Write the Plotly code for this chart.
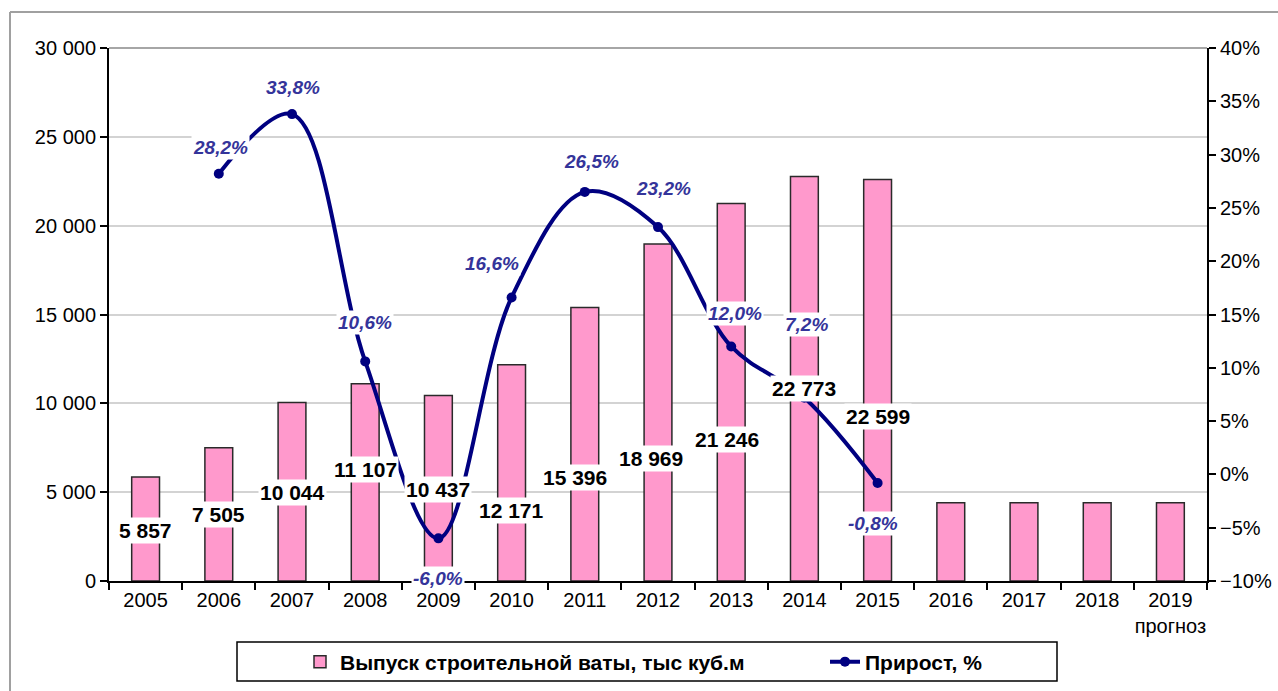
import plotly.graph_objects as go

# ---- data ----
years = ["2005", "2006", "2007", "2008", "2009", "2010", "2011", "2012",
         "2013", "2014", "2015", "2016", "2017", "2018", "2019"]
year_ticktext = ["2005", "2006", "2007", "2008", "2009", "2010", "2011", "2012",
                 "2013", "2014", "2015", "2016", "2017", "2018", "2019<br>прогноз"]
production = [5857, 7505, 10044, 11107, 10437, 12171, 15396, 18969,
              21246, 22773, 22599, 4400, 4400, 4400, 4400]
labeled_years = years[:11]
growth = [None, 28.2, 33.8, 10.6, -6.0, 16.6, 26.5, 23.2, 12.0, 7.2, -0.8,
          None, None, None, None]

bar_name = "Выпуск строительной ваты, тыс куб.м"
line_name = "Прирост, %"

# ---- label placement (pixels) ----
bar_label_yshift = [51, 67, 89, 112, 92, 71, 104, 123, 142, 193, 165]
bar_label_xshift = [0, 0, 0, 0, 0, 0, -10, -7, -4, 0, 0]
pct_label_xshift = [2, 1, 0, 0, -20, 7, 5, 4, 2, -5]
pct_label_yshift = [26, 27, 39, -40, 34, 30, 39, 33, 73, -41]

FONT = "Liberation Sans, Arial, sans-serif"
W, H = 1278, 691
L, R, T, B = 109, 71, 48, 110
PW, PH = W - L - R, H - T - B


def px_x(p):
    return (p - L) / PW


def px_y(p):
    return (H - B - p) / PH


fig = go.Figure()
fig.add_trace(go.Bar(
    x=years, y=production, name=bar_name, yaxis="y", legend="legend",
    marker=dict(color="#FF99CC", line=dict(color="#2a2a2a", width=1.5)),
))
fig.add_trace(go.Scatter(
    x=years, y=growth, name=line_name, yaxis="y2", mode="lines+markers",
    legend="legend2",
    line=dict(color="#000080", width=4, shape="spline", smoothing=1),
    marker=dict(color="#000080", size=10),
    connectgaps=False,
))

annotations = []
for i, yr in enumerate(labeled_years):
    v = production[i]
    annotations.append(dict(
        x=i, y=0, xref="x", yref="y", showarrow=False,
        text=f"{v:,}".replace(",", " "),
        font=dict(family=FONT, size=21, color="#000000", weight="bold"),
        bgcolor="#FFFFFF", borderpad=1,
        xanchor="center", yanchor="middle",
        xshift=bar_label_xshift[i], yshift=bar_label_yshift[i],
    ))

k = 0
for i, yr in enumerate(years):
    g = growth[i]
    if g is None:
        continue
    annotations.append(dict(
        x=i, y=g, xref="x", yref="y2", showarrow=False,
        text=f"{g:.1f}%".replace(".", ","),
        font=dict(family=FONT, size=19, color="#34349A", weight="bold",
                  style="italic"),
        bgcolor="#FFFFFF", borderpad=1,
        xanchor="center", yanchor="middle",
        xshift=pct_label_xshift[k], yshift=pct_label_yshift[k],
    ))
    k += 1

shapes = [
    # outer chart border (left and top visible)
    dict(type="line", xref="paper", yref="paper",
         x0=px_x(10), x1=px_x(W + 5), y0=px_y(12), y1=px_y(12),
         line=dict(color="#A0A0A0", width=2)),
    dict(type="line", xref="paper", yref="paper",
         x0=px_x(10), x1=px_x(10), y0=px_y(12), y1=px_y(H + 5),
         line=dict(color="#A0A0A0", width=2)),
    # plot-area top edge
    dict(type="line", xref="paper", yref="paper", layer="below",
         x0=0, x1=1, y0=1, y1=1,
         line=dict(color="#A6A6A6", width=2)),
    # legend box
    dict(type="rect", xref="paper", yref="paper",
         x0=px_x(237), x1=px_x(1057), y0=px_y(642), y1=px_y(681),
         line=dict(color="#000000", width=1.5), fillcolor="rgba(0,0,0,0)"),
]

legend_common = dict(
    orientation="h", xanchor="left", yanchor="middle",
    y=px_y(662),
    bgcolor="rgba(0,0,0,0)", borderwidth=0,
    font=dict(family=FONT, size=21, color="#000000", weight="bold"),
)

fig.update_layout(
    width=W, height=H,
    margin=dict(l=L, r=R, t=T, b=B, autoexpand=False),
    paper_bgcolor="#FFFFFF", plot_bgcolor="#FFFFFF",
    separators=", ",
    font=dict(family=FONT, size=20, color="#000000"),
    bargap=0.62,
    showlegend=True,
    legend=dict(legend_common, x=px_x(300)),
    legend2=dict(legend_common, x=px_x(825)),
    xaxis=dict(
        type="category", categoryorder="array", categoryarray=years,
        tickvals=years, ticktext=year_ticktext, tickangle=0,
        range=[-0.5, len(years) - 0.5],
        tickson="boundaries", ticks="outside", ticklen=7, tickwidth=2,
        tickcolor="#000000",
        showline=True, linecolor="#000000", linewidth=2,
        showgrid=False, zeroline=False,
        tickfont=dict(family=FONT, size=20, color="#000000"),
    ),
    yaxis=dict(
        range=[0, 30000], dtick=5000, tick0=0, tickformat=",d",
        ticks="outside", ticklen=7, tickwidth=2, tickcolor="#000000",
        showline=True, linecolor="#000000", linewidth=2,
        showgrid=True, gridcolor="#D3D3D3", gridwidth=2,
        zeroline=False,
        tickfont=dict(family=FONT, size=20, color="#000000"),
    ),
    yaxis2=dict(
        overlaying="y", side="right",
        range=[-10, 40], dtick=5, tick0=-10, ticksuffix="%",
        ticks="outside", ticklen=7, tickwidth=2, tickcolor="#000000",
        showline=True, linecolor="#000000", linewidth=2,
        showgrid=False, zeroline=False,
        tickfont=dict(family=FONT, size=20, color="#000000"),
    ),
    annotations=annotations,
    shapes=shapes,
)

fig.write_html("out.html", config={"displayModeBar": False},
               post_script="document.body.style.margin='0';")
